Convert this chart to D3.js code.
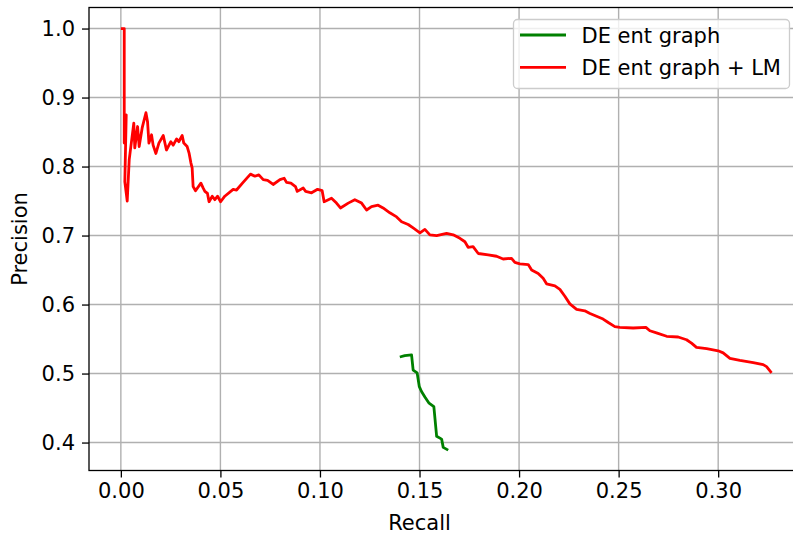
<!DOCTYPE html>
<html>
<head>
<meta charset="utf-8">
<script src="https://cdn.jsdelivr.net/npm/d3@7"></script>
<style>
  body { margin: 0; background: #fff; }
  svg { display: block; font-family: "DejaVu Sans", sans-serif; }
</style>
</head>
<body>
<div id="chart"></div>
<script>
// values
const xTicks = [0.00, 0.05, 0.10, 0.15, 0.20, 0.25, 0.30];
const yTicks = [0.4, 0.5, 0.6, 0.7, 0.8, 0.9, 1.0];
const seriesNames = ['DE ent graph', 'DE ent graph + LM'];
const seriesColors = ['#008000', '#ff0000'];

const greenRecall = [0.1401, 0.1426, 0.1460, 0.1468, 0.1488, 0.1499, 0.1510, 0.1527, 0.1548, 0.1572, 0.1586, 0.1611, 0.1619, 0.1644];
const greenPrecision = [0.524, 0.526, 0.527, 0.505, 0.501, 0.481, 0.474, 0.466, 0.457, 0.452, 0.409, 0.405, 0.393, 0.389];

const redRecall = [0, 0.0017, 0.0017, 0.0027, 0.0020, 0.0032, 0.0042, 0.0065, 0.0070, 0.0084, 0.0092, 0.0107, 0.0126, 0.0134,
  0.0141, 0.0154, 0.0162, 0.0176, 0.0191, 0.0213, 0.0229, 0.0251, 0.0263, 0.0280, 0.0291, 0.0308, 0.0316, 0.0333,
  0.0343, 0.0352, 0.0358, 0.0363, 0.0375, 0.0402, 0.0413, 0.0422, 0.0435, 0.0443, 0.0459, 0.0472, 0.0486, 0.0501,
  0.0522, 0.0564, 0.0581, 0.0614, 0.0651, 0.0673, 0.0693, 0.0715, 0.0737, 0.0765, 0.0799, 0.0820, 0.0832, 0.0854,
  0.0877, 0.0886, 0.0916, 0.0928, 0.0958, 0.0988, 0.1011, 0.1021, 0.1058, 0.1083, 0.1103, 0.1142, 0.1175, 0.1209,
  0.1234, 0.1259, 0.1292, 0.1317, 0.1351, 0.1385, 0.1410, 0.1443, 0.1468, 0.1502, 0.1527, 0.1552, 0.1586, 0.1636,
  0.1669, 0.1703, 0.1728, 0.1744, 0.1769, 0.1795, 0.1845, 0.1887, 0.1920, 0.1962, 0.1979, 0.2004, 0.2046, 0.2063,
  0.2096, 0.2121, 0.2138, 0.2180, 0.2205, 0.2230, 0.2255, 0.2289, 0.2330, 0.2356, 0.2389, 0.2422, 0.2448, 0.2481,
  0.2506, 0.2573, 0.2637, 0.2657, 0.2690, 0.2741, 0.2799, 0.2841, 0.2866, 0.2891, 0.2942, 0.3000, 0.3025, 0.3059,
  0.3109, 0.3176, 0.3226, 0.3243, 0.3268];
const redPrecision = [1.0, 1.0, 0.834, 0.875, 0.778, 0.750, 0.810, 0.863, 0.827, 0.858, 0.829, 0.856, 0.878, 0.865,
  0.834, 0.846, 0.831, 0.819, 0.834, 0.845, 0.824, 0.836, 0.831, 0.840, 0.836, 0.845, 0.834, 0.829,
  0.819, 0.805, 0.798, 0.771, 0.765, 0.776, 0.769, 0.764, 0.761, 0.749, 0.757, 0.752, 0.757, 0.749,
  0.757, 0.767, 0.766, 0.777, 0.789, 0.786, 0.788, 0.781, 0.780, 0.774, 0.781, 0.783, 0.777, 0.776,
  0.771, 0.764, 0.769, 0.764, 0.762, 0.767, 0.765, 0.749, 0.754, 0.747, 0.740, 0.747, 0.752, 0.747,
  0.737, 0.742, 0.744, 0.740, 0.733, 0.727, 0.720, 0.716, 0.711, 0.704, 0.709, 0.701, 0.700, 0.703,
  0.701, 0.696, 0.691, 0.683, 0.684, 0.674, 0.672, 0.670, 0.666, 0.667, 0.661, 0.659, 0.658, 0.650,
  0.645, 0.638, 0.630, 0.627, 0.622, 0.612, 0.601, 0.593, 0.591, 0.587, 0.583, 0.579, 0.574, 0.568,
  0.567, 0.566, 0.567, 0.562, 0.559, 0.554, 0.553, 0.549, 0.544, 0.538, 0.536, 0.533, 0.530, 0.522,
  0.519, 0.516, 0.513, 0.510, 0.501];

const width = 793, height = 535;
const plotLeft = 89, plotRight = 803, plotTop = 7.5, plotBottom = 470.5;
const fontSize = 21;

const svg = d3.select('#chart').append('svg')
  .attr('width', width)
  .attr('height', height);

const x = d3.scaleLinear().domain([-0.0160, 0.3426]).range([plotLeft, plotRight]);
const y = d3.scaleLinear().domain([0.3595, 1.0305]).range([plotBottom, plotTop]);

// grid
svg.append('g')
  .selectAll('line')
  .data(xTicks)
  .enter().append('line')
  .attr('x1', d => x(d)).attr('x2', d => x(d))
  .attr('y1', plotTop).attr('y2', plotBottom)
  .attr('stroke', '#b0b0b0').attr('stroke-width', 1.4);

svg.append('g')
  .selectAll('line')
  .data(yTicks)
  .enter().append('line')
  .attr('x1', plotLeft).attr('x2', plotRight)
  .attr('y1', d => y(d)).attr('y2', d => y(d))
  .attr('stroke', '#b0b0b0').attr('stroke-width', 1.4);

// curves
const line = d3.line().x(d => x(d[0])).y(d => y(d[1]));
const greenPts = greenRecall.map((r, i) => [r, greenPrecision[i]]);
const redPts = redRecall.map((r, i) => [r, redPrecision[i]]);

svg.append('path').datum(greenPts)
  .attr('d', line).attr('fill', 'none')
  .attr('stroke', seriesColors[0]).attr('stroke-width', 2.8)
  .attr('stroke-linejoin', 'round');

svg.append('path').datum(redPts)
  .attr('d', line).attr('fill', 'none')
  .attr('stroke', seriesColors[1]).attr('stroke-width', 2.8)
  .attr('stroke-linejoin', 'round');

// axes
const xAxis = svg.append('g')
  .attr('transform', `translate(0,${plotBottom})`)
  .call(d3.axisBottom(x).tickValues(xTicks).tickFormat(d3.format('.2f')).tickSize(7).tickPadding(6).tickSizeOuter(0));
const yAxis = svg.append('g')
  .attr('transform', `translate(${plotLeft},0)`)
  .call(d3.axisLeft(y).tickValues(yTicks).tickFormat(d3.format('.1f')).tickSize(7).tickPadding(7).tickSizeOuter(0));

[xAxis, yAxis].forEach(a => {
  a.selectAll('text').attr('font-size', fontSize).attr('fill', '#000').attr('font-family', '"DejaVu Sans", sans-serif');
  a.selectAll('.tick line').attr('stroke', '#000').attr('stroke-width', 1.3);
  a.select('.domain').attr('stroke', 'none');
});

// spines
svg.append('rect')
  .attr('x', plotLeft).attr('y', plotTop)
  .attr('width', plotRight - plotLeft).attr('height', plotBottom - plotTop)
  .attr('fill', 'none').attr('stroke', '#000').attr('stroke-width', 1.3);

svg.append('text')
  .attr('x', x(0.15)).attr('y', 530)
  .attr('text-anchor', 'middle').attr('font-size', fontSize)
  .text('Recall');

svg.append('text')
  .attr('transform', `translate(27,${(plotTop + plotBottom) / 2}) rotate(-90)`)
  .attr('text-anchor', 'middle').attr('font-size', fontSize)
  .text('Precision');

// legend
const lg = svg.append('g');
lg.append('rect')
  .attr('x', 513.5).attr('y', 19.5).attr('width', 276).attr('height', 69).attr('rx', 4)
  .attr('fill', 'rgba(255,255,255,0.8)').attr('stroke', '#cccccc').attr('stroke-width', 1.3);

seriesNames.forEach((name, i) => {
  const yy = 35 + i * 32.3;
  lg.append('line')
    .attr('x1', 520).attr('x2', 566).attr('y1', yy).attr('y2', yy)
    .attr('stroke', seriesColors[i]).attr('stroke-width', 2.8);
  lg.append('text')
    .attr('x', 581.5).attr('y', yy + 7.5)
    .attr('font-size', fontSize)
    .text(name);
});
</script>
</body>
</html>
